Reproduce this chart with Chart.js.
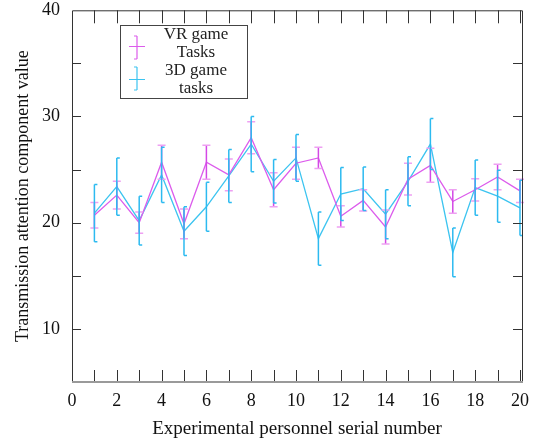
<!DOCTYPE html>
<html>
<head>
<meta charset="utf-8">
<script src="https://cdn.jsdelivr.net/npm/chart.js"></script>
<style>
  html, body { margin: 0; padding: 0; background: #fff; }
  #wrap { width: 542px; height: 442px; }
</style>
</head>
<body>
<div id="wrap"><canvas id="chart"></canvas></div>
<script>
// serial number of each participant
const serialNumbers = [1, 2, 3, 4, 5, 6, 7, 8, 9, 10, 11, 12, 13, 14, 15, 16, 17, 18, 19, 20];

// VR game tasks
const vrValues = [20.7, 22.6, 20.0, 25.7, 19.9, 25.7, 24.5, 28.0, 23.1, 25.6, 26.1, 20.6, 22.1, 19.6, 24.1, 25.4, 22.0, 23.1, 24.3, 23.0];
const vrErrors = [1.2, 1.3, 1.0, 1.6, 1.4, 1.6, 1.5, 1.5, 1.6, 1.5, 1.0, 1.0, 1.0, 1.6, 1.5, 1.6, 1.1, 1.05, 1.2, 1.1];

// 3D game tasks
const d3Values = [20.9, 23.4, 20.2, 24.5, 19.2, 21.5, 24.4, 27.4, 23.9, 26.1, 18.5, 22.7, 23.2, 20.8, 23.9, 27.4, 17.2, 23.3, 22.5, 21.4];
const d3Errors = [2.7, 2.7, 2.3, 2.6, 2.3, 2.3, 2.5, 2.6, 2.05, 2.2, 2.5, 2.5, 2.05, 2.3, 2.3, 2.4, 2.3, 2.6, 2.45, 2.6];

const xTickLabels = [0, 2, 4, 6, 8, 10, 12, 14, 16, 18, 20];
const yTickLabels = [10, 20, 30, 40];
const legendLines = [["VR game", "Tasks"], ["3D game", "tasks"]];

const SERIF = "'Liberation Serif', 'DejaVu Serif', serif";
const VR_COLOR = "#dc5cec";
const D3_COLOR = "#3cc4f0";

const toPoints = (vals) => serialNumbers.map((x, i) => ({ x, y: vals[i] }));

// error bars drawn from the data through the chart scales
const errorBars = {
  id: "errorBars",
  afterDatasetsDraw(chart) {
    const { ctx, scales: { x, y } } = chart;
    chart.data.datasets.forEach((ds) => {
      ctx.save();
      ds.data.forEach((p, i) => {
        const e = ds.errors[i];
        const px = x.getPixelForValue(p.x);
        const top = y.getPixelForValue(p.y + e);
        const bot = y.getPixelForValue(p.y - e);
        ctx.strokeStyle = ds.barColor;
        ctx.lineWidth = 1.5;
        ctx.beginPath();
        ctx.moveTo(px, top);
        ctx.lineTo(px, bot);
        ctx.stroke();
        ctx.strokeStyle = ds.capColor;
        ctx.beginPath();
        ctx.moveTo(px + ds.capLeft, top);
        ctx.lineTo(px + ds.capRight, top);
        ctx.moveTo(px + ds.capLeft, bot);
        ctx.lineTo(px + ds.capRight, bot);
        ctx.stroke();
      });
      ctx.restore();
    });
  },
};

// box frame with inward ticks on all four sides
const frameTicks = {
  id: "frameTicks",
  afterDraw(chart) {
    const { ctx, chartArea: a, scales: { x, y } } = chart;
    ctx.save();
    ctx.lineWidth = 1;
    ctx.strokeStyle = "#333";
    ctx.beginPath();
    ctx.moveTo(a.left + 0.5, a.bottom);
    ctx.lineTo(a.left + 0.5, a.top + 0.5);
    ctx.lineTo(a.right + 0.5, a.top + 0.5);
    ctx.lineTo(a.right + 0.5, a.bottom);
    ctx.stroke();

    ctx.strokeStyle = "#9a9a9a";
    ctx.lineWidth = 2;
    ctx.beginPath();
    ctx.moveTo(a.left, a.bottom);
    ctx.lineTo(a.right + 1, a.bottom);
    ctx.stroke();

    ctx.lineWidth = 1;
    ctx.strokeStyle = "#333";
    ctx.beginPath();
    x.ticks.forEach((t) => {
      if (t.value < 1 || t.value > 20) return;
      const px = Math.round(x.getPixelForValue(t.value)) + 0.5;
      ctx.moveTo(px, a.bottom - 1);
      ctx.lineTo(px, a.bottom - 12);
      ctx.moveTo(px, a.top);
      ctx.lineTo(px, a.top + 13);
    });
    y.ticks.forEach((t) => {
      if (t.value <= y.min || t.value >= y.max) return;
      const py = Math.round(y.getPixelForValue(t.value)) + 0.5;
      ctx.moveTo(a.left, py);
      ctx.lineTo(a.left + 9, py);
      ctx.moveTo(a.right, py);
      ctx.lineTo(a.right - 9, py);
    });
    ctx.stroke();
    ctx.restore();
  },
};

// boxed legend with two-line labels
const boxLegend = {
  id: "boxLegend",
  afterDraw(chart) {
    const { ctx } = chart;
    const bx = 120, by = 25, bw = 127, bh = 73;
    ctx.save();
    ctx.fillStyle = "#fff";
    ctx.fillRect(bx, by, bw, bh);
    ctx.strokeStyle = "#444";
    ctx.lineWidth = 1;
    ctx.strokeRect(bx + 0.5, by + 0.5, bw, bh);

    const entries = [
      { color: VR_COLOR, lines: legendLines[0], y0: 35, mid: 46, top: 36, bot: 59 },
      { color: D3_COLOR, lines: legendLines[1], y0: 71, mid: 79, top: 67, bot: 90 },
    ];
    ctx.font = "17px " + SERIF;
    ctx.textAlign = "center";
    ctx.textBaseline = "middle";
    entries.forEach((en) => {
      ctx.strokeStyle = en.color;
      ctx.lineWidth = 1.2;
      ctx.beginPath();
      ctx.moveTo(129, en.mid + 0.5);
      ctx.lineTo(145, en.mid + 0.5);
      ctx.moveTo(137, en.top);
      ctx.lineTo(137, en.bot);
      ctx.moveTo(134, en.top);
      ctx.lineTo(137, en.top);
      ctx.moveTo(134, en.bot);
      ctx.lineTo(137, en.bot);
      ctx.stroke();
      ctx.fillStyle = "#222";
      ctx.fillText(en.lines[0], 196, en.y0);
      ctx.fillText(en.lines[1], 196, en.y0 + 17.5);
    });
    ctx.restore();
  },
};

new Chart(document.getElementById("chart"), {
  type: "line",
  data: {
    datasets: [
      {
        label: "VR game Tasks",
        data: toPoints(vrValues),
        errors: vrErrors,
        borderColor: VR_COLOR,
        barColor: "#d448e6",
        capColor: "#eea0f2",
        capLeft: -4,
        capRight: 4,
        borderWidth: 1.3,
        pointRadius: 0,
        tension: 0,
      },
      {
        label: "3D game tasks",
        data: toPoints(d3Values),
        errors: d3Errors,
        borderColor: D3_COLOR,
        barColor: "#2cbaf0",
        capColor: "#2cbaf0",
        capLeft: 0,
        capRight: 3,
        borderWidth: 1.3,
        pointRadius: 0,
        tension: 0,
      },
    ],
  },
  options: {
    responsive: true,
    maintainAspectRatio: false,
    animation: false,
    layout: { padding: { top: 0, right: 20, left: 0, bottom: 0 } },
    plugins: {
      legend: { display: false },
      tooltip: { enabled: false },
    },
    scales: {
      x: {
        type: "linear",
        min: 0,
        max: 20.09,
        grid: { display: false },
        border: { display: false },
        afterBuildTicks: (s) => {
          s.ticks = [0, ...serialNumbers].map((v) => ({ value: v }));
        },
        ticks: {
          autoSkip: false,
          maxRotation: 0,
          padding: 0,
          color: "#111",
          font: { family: SERIF, size: 18 },
          callback: (v) => (xTickLabels.includes(v) ? String(v) : ""),
        },
        title: {
          display: true,
          text: "Experimental personnel serial number",
          color: "#111",
          font: { family: SERIF, size: 19 },
          padding: { top: 0, bottom: 2 },
        },
        afterFit: (s) => { s.height = 60; },
      },
      y: {
        min: 5,
        max: 40,
        grid: { display: false },
        border: { display: false },
        ticks: {
          stepSize: 5,
          autoSkip: false,
          padding: 4,
          color: "#111",
          font: { family: SERIF, size: 18, lineHeight: 0.7 },
          callback: (v) => (yTickLabels.includes(v) ? String(v) : ""),
        },
        title: {
          display: true,
          text: "Transmission attention component value",
          color: "#111",
          font: { family: SERIF, size: 18 },
          padding: { top: 12, bottom: 0 },
        },
        afterFit: (s) => { s.width = 72; },
      },
    },
  },
  plugins: [errorBars, frameTicks, boxLegend],
});
</script>
</body>
</html>
